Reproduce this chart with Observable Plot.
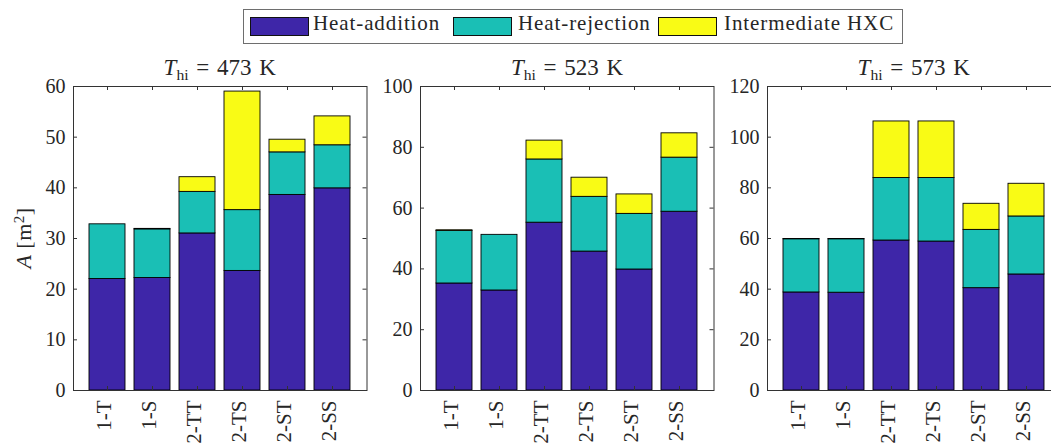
<!DOCTYPE html>
<html><head><meta charset="utf-8">
<script src="https://cdn.jsdelivr.net/npm/d3@7"></script>
<script src="https://cdn.jsdelivr.net/npm/@observablehq/plot@0.6"></script>
<style>
html,body{margin:0;padding:0;overflow:hidden;background:#fff;width:1051px;height:446px}
#root{position:relative;width:1100px;height:446px;font-family:"Liberation Serif","Tinos","Times New Roman",serif;color:#262626}
.panel{position:absolute;top:0}
.title{position:absolute;top:56px;font-size:23px;line-height:23px;white-space:nowrap;transform:translateX(-50%);word-spacing:2px}
.title sub{font-size:0.68em;vertical-align:-0.3em;line-height:0}
.legend{position:absolute;left:243px;top:9px;width:658px;height:33px;border:1px solid #6e6e6e;background:#fff}
.sw{position:absolute;top:17px;width:57px;height:17px;border:1px solid #111}
.lt{position:absolute;top:13px;font-size:21px;line-height:21px;white-space:nowrap;letter-spacing:0.9px}
.ylabel{position:absolute;left:24px;top:238px;font-size:22px;line-height:22px;white-space:nowrap;transform:translate(-50%,-50%) rotate(-90deg);letter-spacing:0.5px}
.ylabel sup{font-size:0.68em;vertical-align:0.5em;line-height:0}
svg text{font-family:"Liberation Serif","Tinos","Times New Roman",serif}
</style></head><body><div id="root"></div>
<script>
// ---- data ----
const categories = ["1-T", "1-S", "2-TT", "2-TS", "2-ST", "2-SS"];
const seriesNames = ["Heat-addition", "Heat-rejection", "Intermediate HXC"];
const seriesColors = ["#3e26a8", "#1abfb5", "#f9fb15"];
const temperatures = [473, 523, 573];
const yMaxes = [60, 100, 120];
const yTicks473 = [0, 10, 20, 30, 40, 50, 60];
const yTicks523 = [0, 20, 40, 60, 80, 100];
const yTicks573 = [0, 20, 40, 60, 80, 100, 120];

// segment heights (m^2) per configuration
const heatAddition473 = [22.0, 22.2, 31.0, 23.6, 38.6, 39.9];
const heatRejection473 = [10.8, 9.6, 8.2, 12.0, 8.4, 8.5];
const intermediate473 = [0.0, 0.1, 2.9, 23.4, 2.5, 5.7];

const heatAddition523 = [35.2, 32.9, 55.2, 45.7, 39.8, 58.8];
const heatRejection523 = [17.3, 18.3, 20.8, 18.0, 18.3, 17.8];
const intermediate523 = [0.2, 0.0, 6.2, 6.3, 6.4, 8.0];

const heatAddition573 = [38.7, 38.6, 59.2, 58.8, 40.4, 45.8];
const heatRejection573 = [21.0, 21.1, 24.7, 25.1, 23.0, 22.9];
const intermediate573 = [0.1, 0.1, 22.3, 22.3, 10.3, 12.9];

const panelSeries = [
  [heatAddition473, heatRejection473, intermediate473],
  [heatAddition523, heatRejection523, intermediate523],
  [heatAddition573, heatRejection573, intermediate573]
];
const panelTicks = [yTicks473, yTicks523, yTicks573];

// ---- layout ----
const FONT = "'Liberation Serif', Tinos, 'Times New Roman', serif";
const W = 293.5, H = 304, mL = 73, mR = 14, mT = 86, mB = 56;
const panelLefts = [73, 420.3, 767];
const root = document.getElementById("root");

function makePanel(i) {
  const rows = [];
  categories.forEach((c, j) => seriesNames.forEach((s, k) => rows.push({cat: c, series: s, value: panelSeries[i][k][j]})));
  const ticks = panelTicks[i];
  return Plot.plot({
    width: mL + W + mR,
    height: mT + H + mB,
    marginLeft: mL, marginRight: mR, marginTop: mT, marginBottom: mB,
    style: {background: "transparent", overflow: "visible", maxWidth: "none", fontFamily: FONT, fontSize: "20px", color: "#262626"},
    x: {domain: categories, paddingInner: 0.2, paddingOuter: 0.35, align: 0.5, label: null},
    y: {domain: [0, yMaxes[i]], label: null},
    color: {domain: seriesNames, range: seriesColors},
    marks: [
      Plot.barY(rows, {x: "cat", y: "value", fill: "series", stroke: "#000", strokeWidth: 0.9}),
      Plot.frame({stroke: "#333", strokeWidth: 1}),
      Plot.tickY(ticks, {y: d => d, insetRight: W - 4, stroke: "#333"}),
      Plot.tickY(ticks, {y: d => d, insetLeft: W - 4, stroke: "#333"}),
      Plot.tickX(categories, {x: d => d, insetBottom: H - 4, stroke: "#333"}),
      Plot.tickX(categories, {x: d => d, insetTop: H - 4, stroke: "#333"}),
      Plot.axisY({ticks, tickSize: 0, tickPadding: 8, label: null, fontSize: 20}),
      Plot.axisX({tickSize: 0, tickPadding: 10, tickRotate: -90, textAnchor: "end", lineAnchor: "middle", dx: -3, label: null, fontSize: 21})
    ]
  });
}

temperatures.forEach((t, i) => {
  const svg = makePanel(i);
  const wrap = document.createElement("div");
  wrap.className = "panel";
  wrap.style.left = (panelLefts[i] - mL) + "px";
  wrap.appendChild(svg);
  root.appendChild(wrap);
  const title = document.createElement("div");
  title.className = "title";
  title.style.left = (panelLefts[i] + W / 2) + "px";
  title.innerHTML = `<i>T</i><sub>hi</sub> = ${t} K`;
  root.appendChild(title);
});

// y label
const yl = document.createElement("div");
yl.className = "ylabel";
yl.innerHTML = `<i>A</i> [m<sup>2</sup>]`;
root.appendChild(yl);

// legend
const legend = document.createElement("div");
legend.className = "legend";
root.appendChild(legend);
const swLefts = [250, 453, 658];
const txtLefts = [313, 518, 724];
seriesNames.forEach((s, k) => {
  const sw = document.createElement("div");
  sw.className = "sw";
  sw.style.left = swLefts[k] + "px";
  sw.style.background = seriesColors[k];
  root.appendChild(sw);
  const tx = document.createElement("div");
  tx.className = "lt";
  tx.style.left = txtLefts[k] + "px";
  tx.textContent = s;
  root.appendChild(tx);
});
</script></body></html>
